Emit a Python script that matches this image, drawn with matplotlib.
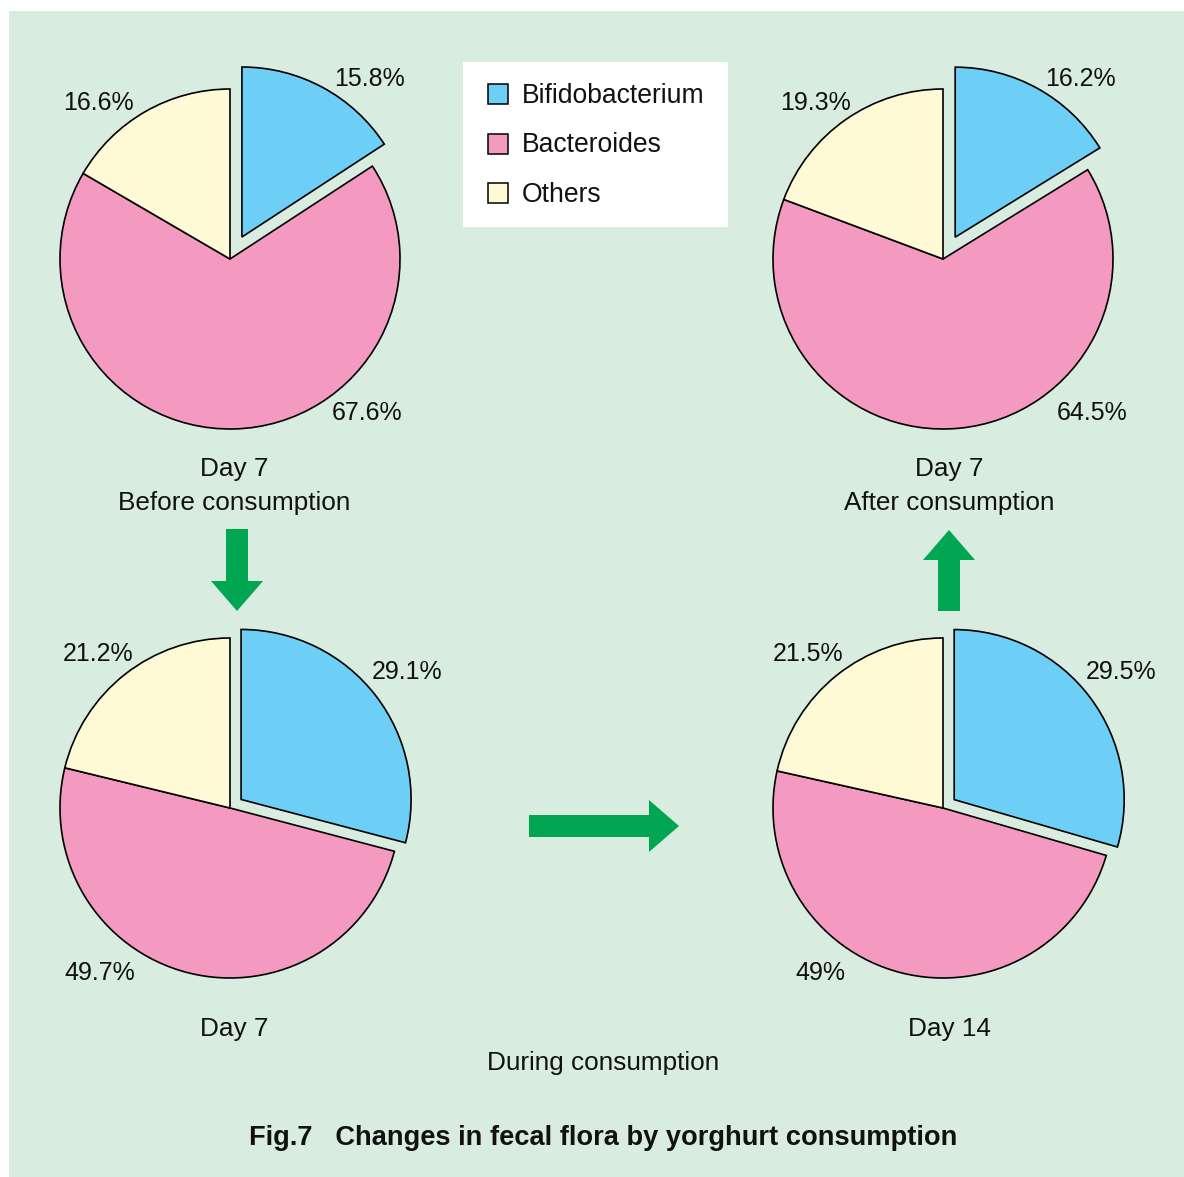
import matplotlib
matplotlib.use("Agg")
import matplotlib.pyplot as plt
from matplotlib.patches import Rectangle, FancyArrow
from matplotlib import font_manager

# ---- data -------------------------------------------------------------
groups = ["Bifidobacterium", "Bacteroides", "Others"]
colors = ["#6dcff6", "#f49ac1", "#fffad6"]

before_day7 = [15.8, 67.6, 16.6]
during_day7 = [29.1, 49.7, 21.2]
during_day14 = [29.5, 49.0, 21.5]
after_day7 = [16.2, 64.5, 19.3]

captions = {
    "before": ["Day 7", "Before consumption"],
    "after": ["Day 7", "After consumption"],
    "during7": ["Day 7"],
    "during14": ["Day 14"],
}
during_caption = "During consumption"
title = "Fig.7   Changes in fecal flora by yorghurt consumption"

# ---- canvas -----------------------------------------------------------
W, H = 1184, 1177
fig = plt.figure(figsize=(W / 100, H / 100), dpi=100, facecolor="white")
ax = fig.add_axes([0, 0, 1, 1])


def Y(y):
    """Convert a top-down pixel row to the y-up data coordinate."""
    return H - y


def pick(*names):
    for n in names:
        try:
            font_manager.findfont(n, fallback_to_default=False)
            return n
        except Exception:
            continue
    return "DejaVu Sans"


body_font = pick("Liberation Sans", "Arial", "DejaVu Sans")
pct_font = body_font
pct_size = 18

BG = "#d8ece0"
GREEN = "#00a651"
ax.add_patch(Rectangle((9, 0), W - 9, H - 11, facecolor=BG, edgecolor="none", zorder=0))

R = 170
wedge_style = dict(edgecolor="black", linewidth=1.2, joinstyle="miter")


def draw_pie(values, center, explode_blue, label_pos):
    # explode is given in data units (pixels here)
    ax.pie(values, colors=colors, startangle=90, counterclock=False,
           explode=[explode_blue, 0, 0], radius=R, center=(center[0], Y(center[1])),
           wedgeprops=wedge_style, frame=True)
    for v, (lx, ly) in zip(values, label_pos):
        ax.text(lx, Y(ly), f"{v:g}%", ha="center", va="baseline",
                fontsize=pct_size, family=pct_font, color="#111111", zorder=5)


draw_pie(before_day7, (230, 259), 25, [(369, 86), (367, 420), (98, 110)])
draw_pie(after_day7, (943, 259), 25, [(1080, 86), (1092, 420), (815, 110)])
draw_pie(during_day7, (230, 808), 14, [(407, 679), (100, 980), (98, 661)])
draw_pie(during_day14, (943, 808), 14, [(1121, 679), (820, 980), (808, 661)])

# ---- captions -----------------------------------------------------------
txt = dict(ha="center", va="baseline", fontsize=18.8, family=body_font, color="#111111")
for (x, y0), key in [((234, 476), "before"), ((949, 476), "after"),
                     ((234, 1036), "during7"), ((949, 1036), "during14")]:
    for i, line in enumerate(captions[key]):
        ax.text(x, Y(y0 + 34 * i), line, **txt)
ax.text(603, Y(1070), during_caption, **txt)
ax.text(603, Y(1145), title, ha="center", va="baseline", fontsize=19.6,
        family=body_font, fontweight="bold", color="#111111")

# ---- legend -------------------------------------------------------------
ax.add_patch(Rectangle((463, Y(227)), 265, 165, facecolor="white", edgecolor="none", zorder=2))
for i, (name, c) in enumerate(zip(groups, colors)):
    yc = 94 + 49.5 * i
    ax.add_patch(Rectangle((488, Y(yc + 10)), 20, 20, facecolor=c, edgecolor="black",
                           linewidth=1.1, zorder=3))
    ax.text(522, Y(yc + 9), name, ha="left", va="baseline", fontsize=19.1,
            family=body_font, color="#111111", zorder=4)

# ---- arrows -------------------------------------------------------------
arrow_kw = dict(width=22, head_width=52, head_length=30, length_includes_head=True,
                facecolor=GREEN, edgecolor="none", zorder=3)
ax.add_patch(FancyArrow(237, Y(529), 0, -82, **arrow_kw))
ax.add_patch(FancyArrow(529, Y(826), 150, 0, **arrow_kw))
ax.add_patch(FancyArrow(949, Y(611), 0, 81, **arrow_kw))

ax.set_xlim(0, W)
ax.set_ylim(0, H)
ax.set_aspect("auto")
ax.axis("off")

fig.savefig("out.png", dpi=100, facecolor="white")
